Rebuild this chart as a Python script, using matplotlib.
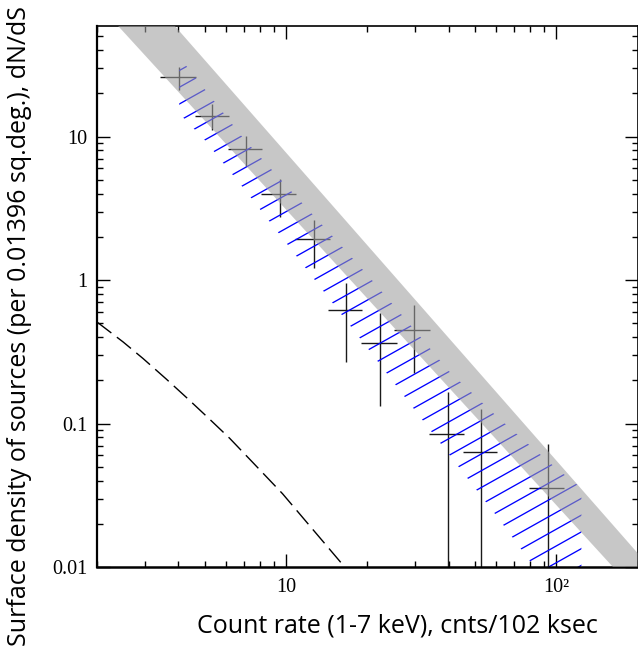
import numpy as np
import matplotlib
matplotlib.use('Agg')
import matplotlib.pyplot as plt
from matplotlib.collections import LineCollection
from matplotlib.ticker import FixedLocator, FixedFormatter, LogLocator, NullFormatter

# ---- data ----
rate = [4.03, 5.33, 7.12, 9.49, 12.7, 16.7, 22.3, 29.9, 39.7, 52.7, 93.5]
rate_lo = [3.42, 4.60, 6.10, 8.07, 10.8, 14.3, 19.0, 25.2, 33.8, 45.1, 79.6]
rate_hi = [4.63, 6.15, 8.18, 10.9, 14.5, 19.2, 25.7, 34.2, 45.5, 60.4, 107.0]
dnds = [25.9, 13.9, 8.21, 3.98, 1.94, 0.618, 0.366, 0.449, 0.0845, 0.0632, 0.0356]
dnds_lo = [21.2, 11.1, 6.28, 2.77, 1.21, 0.27, 0.133, 0.224, 0.001, 0.001, 0.001]
dnds_hi = [30.6, 16.9, 10.1, 5.07, 2.62, 0.96, 0.593, 0.670, 0.167, 0.126, 0.0716]

# grey band (straight power-law edges)
band_x = [2.0, 200.0]
band_lo = [85.5, 0.0065]
band_hi = [245.0, 0.01253]

# blue hatched confidence region
hatch_x = [4.03, 5.0, 7.0, 10.0, 15.0, 20.0, 30.0, 40.0, 60.0, 80.0, 100.0, 124.0]
hatch_hi = [35.9, 21.5, 9.59, 4.57, 1.99, 1.09, 0.447, 0.233, 0.113, 0.0702, 0.0488, 0.0355]
hatch_lo = [14.5, 9.5, 4.32, 1.83, 0.679, 0.338, 0.124, 0.0615, 0.0229, 0.0110, 0.0063, 0.0037]

# dashed model curve
model_x = [2.0, 2.5, 2.96, 3.6, 4.30, 5.2, 6.19, 7.53, 9.72, 12.6, 16.5]
model_y = [0.51, 0.370, 0.284, 0.205, 0.151, 0.108, 0.079, 0.0537, 0.0324, 0.0182, 0.0100]

xticks = [10, 100]
xticklabels = ['10', '10\u00b2']
yticks = [0.01, 0.1, 1, 10]
yticklabels = ['0.01', '0.1', '1', '10']

xlabel = 'Count rate (1-7 keV), cnts/102 ksec'
ylabel = 'Surface density of sources (per 0.01396 sq.deg.), dN/dS'

# ---- figure ----
W, H = 638, 656
fig = plt.figure(figsize=(W / 100, H / 100), dpi=100)
ax = fig.add_axes([97 / W, (H - 567) / H, 540.5 / W, 541 / H])
ax.set_xscale('log')
ax.set_yscale('log')
ax.set_xlim(2, 200)
ax.set_ylim(0.01, 59)

# crosses
for x, xl, xh, y, yl, yh in zip(rate, rate_lo, rate_hi, dnds, dnds_lo, dnds_hi):
    ax.plot([xl, xh], [y, y], color='#1a1a1a', lw=1.0, zorder=2, solid_capstyle='butt')
    ax.plot([x, x], [yl, yh], color='#1a1a1a', lw=1.0, zorder=2, solid_capstyle='butt')

# hatched region (custom shallow hatch lines clipped to the region)
hpoly = ax.fill_between(hatch_x, hatch_lo, hatch_hi, facecolor='none', edgecolor='none', zorder=1)
slope = 0.56
spacing = 16.75 / 541
c0 = -0.406
cs = c0 + spacing * np.arange(-60, 60)
segs = [[(0, c), (1, slope + c)] for c in cs]
lc = LineCollection(segs, colors='#0000ff', linewidths=0.95, transform=ax.transAxes, zorder=2)
ax.add_collection(lc)
lc.set_clip_path(hpoly.get_paths()[0], ax.transData)

# grey band on top, semi-transparent
ax.fill_between(band_x, band_lo, band_hi, facecolor='#a0a0a0', edgecolor='none', alpha=0.58, zorder=3)

# dashed model
ax.plot(model_x, model_y, color='black', lw=1.0, dashes=(13, 5), zorder=4)

# ticks
ax.xaxis.set_major_locator(FixedLocator(xticks))
ax.xaxis.set_major_formatter(FixedFormatter(xticklabels))
ax.xaxis.set_minor_locator(LogLocator(base=10, subs=np.arange(2, 10)))
ax.xaxis.set_minor_formatter(NullFormatter())
ax.yaxis.set_major_locator(FixedLocator(yticks))
ax.yaxis.set_major_formatter(FixedFormatter(yticklabels))
ax.yaxis.set_minor_locator(LogLocator(base=10, subs=np.arange(2, 10)))
ax.yaxis.set_minor_formatter(NullFormatter())
ax.tick_params(which='both', direction='in', top=True, right=True, width=1.0, colors='black')
ax.tick_params(which='major', length=9.5)
ax.tick_params(which='minor', length=4.5)
ax.tick_params(axis='x', which='major', pad=8)
ax.tick_params(axis='y', which='major', pad=7)
for lab in ax.get_xticklabels() + ax.get_yticklabels():
    lab.set_fontfamily('Liberation Serif')
    lab.set_fontsize(14.5)

for side, lw in [('left', 1.6), ('bottom', 1.8), ('top', 1.2), ('right', 1.2)]:
    ax.spines[side].set_linewidth(lw)

fig.text(397.5 / W, 1 - 626 / H, xlabel, ha='center', va='center', fontsize=18, family='Open Sans')
fig.text(20 / W, 1 - 326 / H, ylabel, ha='center', va='center', rotation=90, fontsize=18, family='Open Sans')

fig.savefig('out.png', dpi=100)
